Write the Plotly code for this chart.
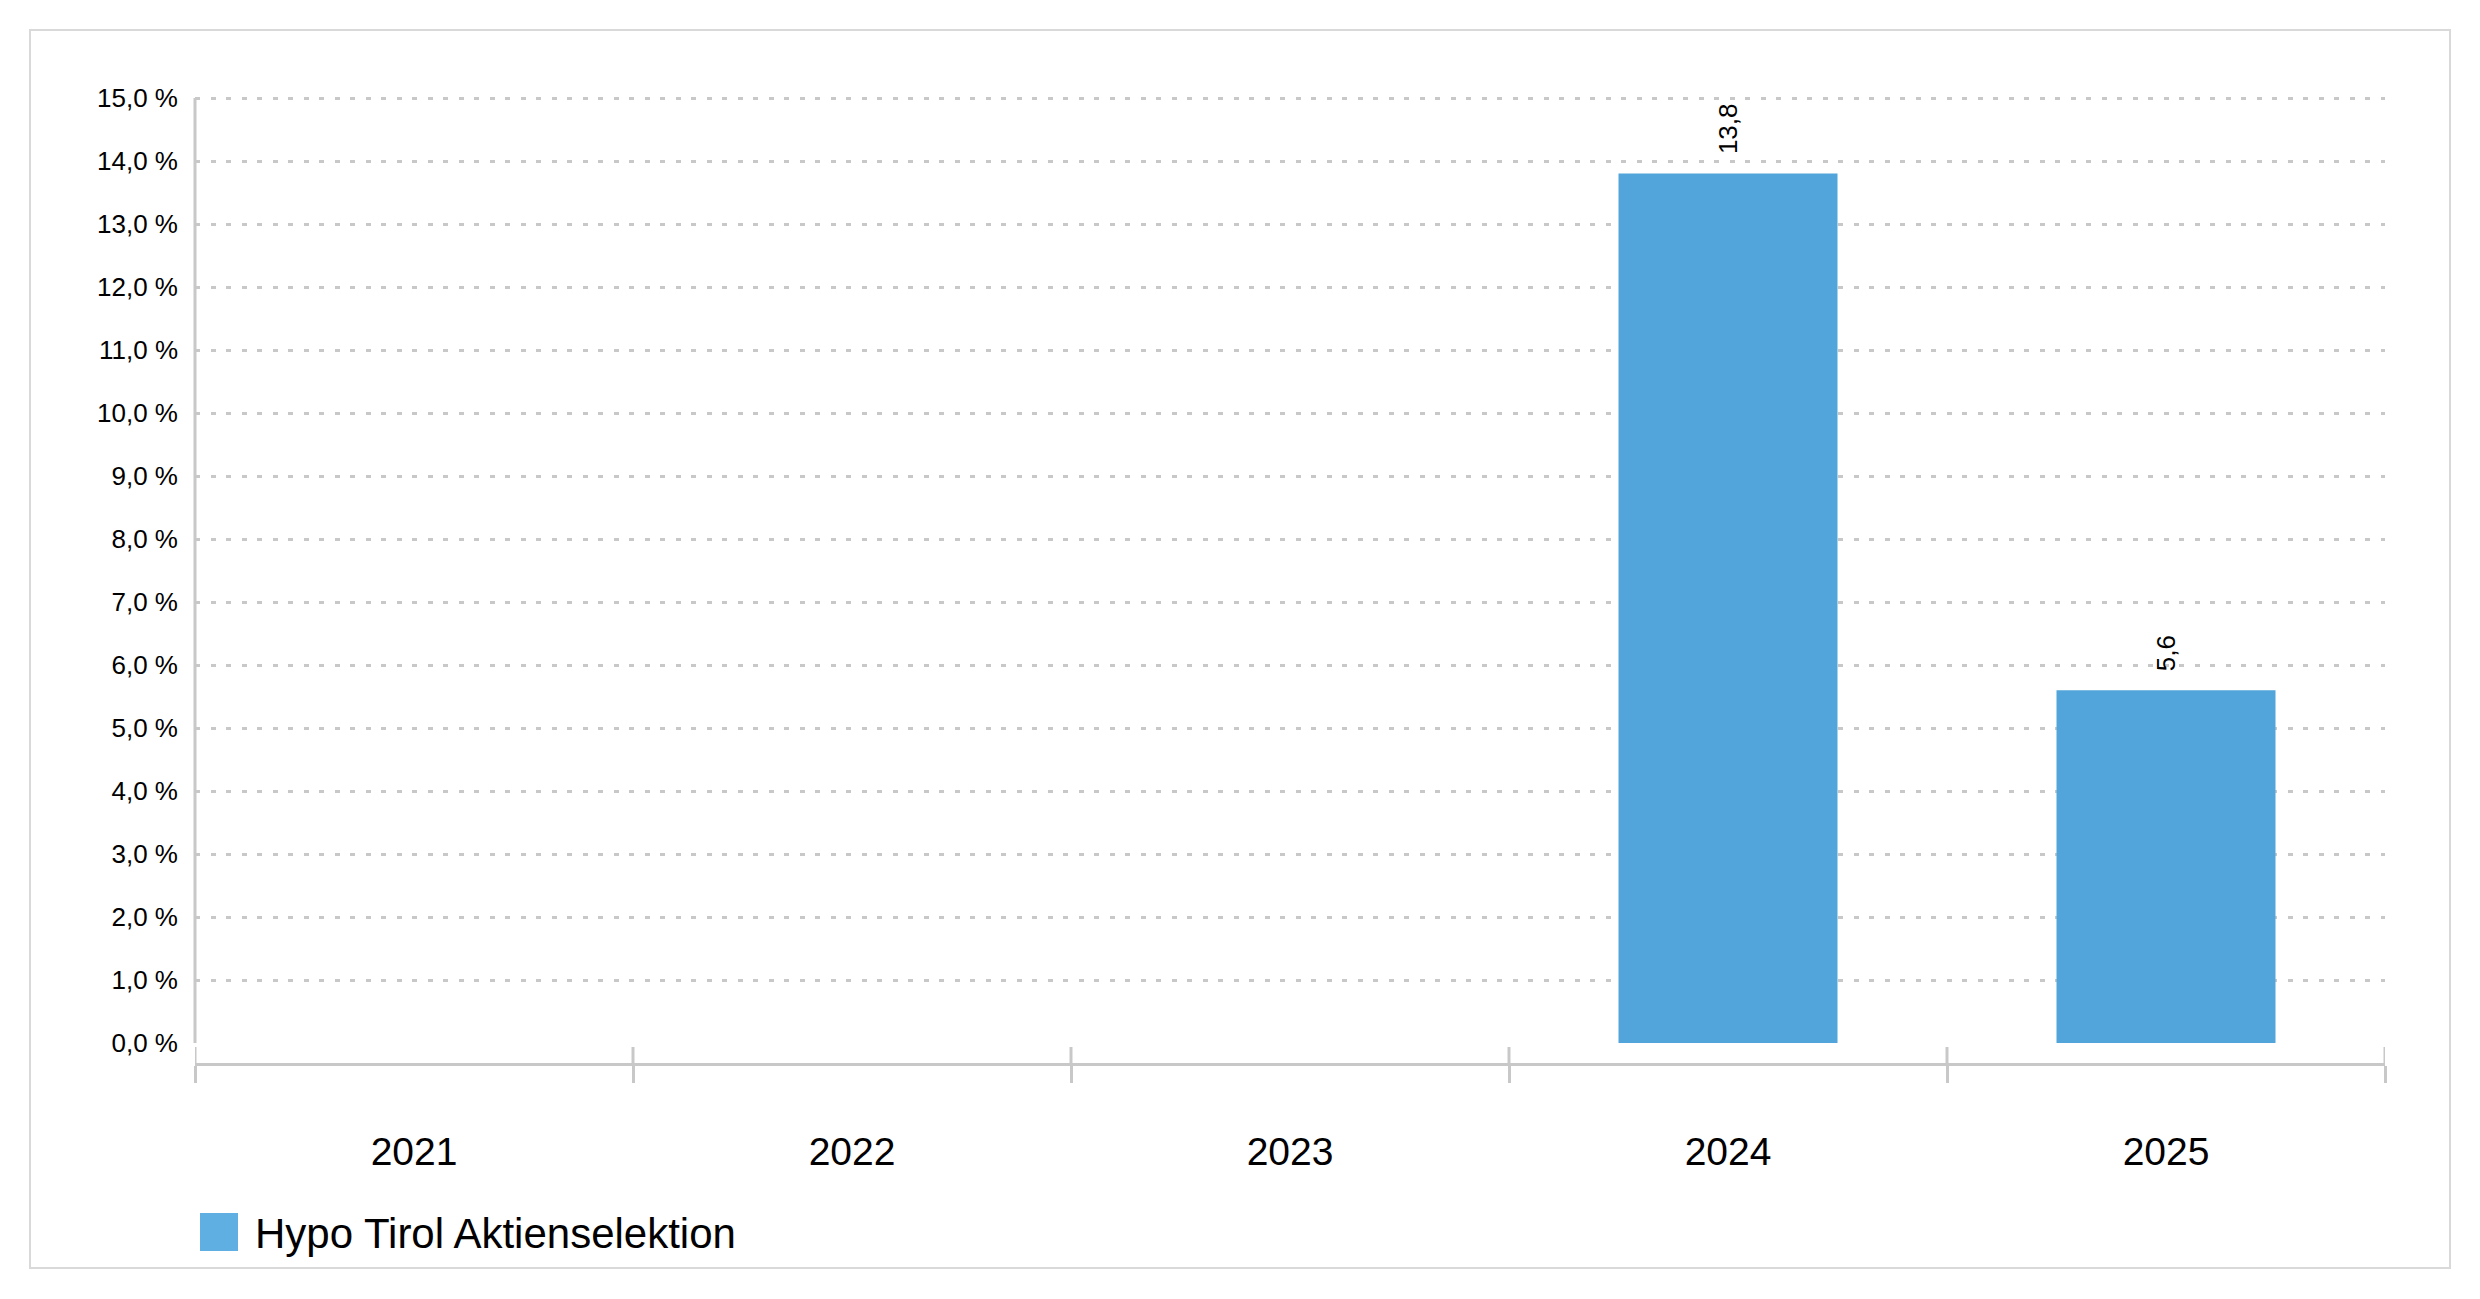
import plotly.graph_objects as go

# ---- data ----
years = ["2021", "2022", "2023", "2024", "2025"]
values = [None, None, None, 13.8, 5.6]
series_name = "Hypo Tirol Aktienselektion"
y_ticks = list(range(0, 16))
y_ticktext = [f"{v:.1f} %".replace(".", ",") for v in y_ticks]

# ---- layout constants (pixels) ----
W, H = 2480, 1299
L, R, T, B = 195, 2385, 96, 1063
PW, PH = R - L, B - T
BAR_COLOR = "#52A5DA"
GRID = "#C8C8C8"
FONT = "Liberation Sans, Arial, sans-serif"


def px(x):
    return (x - L) / PW


def py(y):
    return (B - y) / PH


unit = (1043 - 98) / 15          # pixels per percentage point
ymin = -20 / unit
ymax = 15 + 2 / unit

fig = go.Figure()
fig.add_trace(go.Bar(
    x=years, y=values, name=series_name, marker_color=BAR_COLOR,
    marker_line_width=0, width=0.5, showlegend=False,
))
# helper trace so the grid axis (y2) gets drawn
fig.add_trace(go.Scatter(
    x=years, y=[None] * len(years), yaxis="y2", mode="markers",
    showlegend=False, hoverinfo="skip",
))

annotations = []
for i, v in enumerate(values):
    if v is None:
        continue
    annotations.append(dict(
        x=i, y=v, xref="x", yref="y", text=f"{v:.1f}".replace(".", ","),
        textangle=-90, showarrow=False, yanchor="bottom", xanchor="center",
        yshift=17, font=dict(size=26, color="#000", family=FONT),
    ))

# custom legend
annotations.append(dict(
    x=px(253), y=py(1233), xref="paper", yref="paper", text=series_name,
    showarrow=False, xanchor="left", yanchor="middle",
    font=dict(size=42, color="#000", family=FONT),
))

shapes = []
# outer border
shapes.append(dict(type="rect", xref="paper", yref="paper",
                   x0=px(30), x1=px(2450), y0=py(1268), y1=py(30),
                   line=dict(color="#D9D9D9", width=2), layer="below"))
# legend swatch
shapes.append(dict(type="rect", xref="paper", yref="paper",
                   x0=px(200), x1=px(238), y0=py(1251), y1=py(1213),
                   line=dict(width=0), fillcolor="#60AFE3"))
# upper part of boundary ticks
for i in range(len(years) + 1):
    shapes.append(dict(type="line", xref="x", yref="paper",
                       x0=i - 0.5, x1=i - 0.5, y0=0, y1=py(1047),
                       line=dict(color=GRID, width=3)))
# y axis line (from 0 up to the top value)
shapes.append(dict(type="line", xref="paper", yref="y",
                   x0=0, x1=0, y0=0, y1=15,
                   line=dict(color=GRID, width=3)))

fig.update_layout(
    width=W, height=H,
    margin=dict(l=L, r=W - R, t=T, b=H - B, pad=0),
    paper_bgcolor="white", plot_bgcolor="white",
    font=dict(family=FONT, color="#000"),
    showlegend=False,
    bargap=0.5,
    xaxis=dict(
        type="category", range=[-0.5, len(years) - 0.5],
        showline=True, linecolor=GRID, linewidth=3,
        ticks="outside", tickson="boundaries", ticklen=17, tickwidth=3,
        tickcolor=GRID, showgrid=False, zeroline=False,
        tickfont=dict(size=39, color="#000", family=FONT),
        ticklabelstandoff=52,
    ),
    yaxis=dict(
        range=[ymin, ymax], tickvals=y_ticks, ticktext=y_ticktext,
        showgrid=False, zeroline=False, showline=False,
        ticks="", ticklabelstandoff=16,
        tickfont=dict(size=26, color="#000", family=FONT),
    ),
    yaxis2=dict(
        range=[ymin, ymax], overlaying="y", anchor="x", side="left",
        tickvals=y_ticks[1:], showticklabels=False, showgrid=True,
        gridcolor=GRID, gridwidth=3, griddash="5px,10.5px",
        zeroline=False, showline=False, ticks="",
    ),
    annotations=annotations,
    shapes=shapes,
)

fig.write_html("out.html", config={"displayModeBar": False},
               post_script="document.body.style.margin='0';")
